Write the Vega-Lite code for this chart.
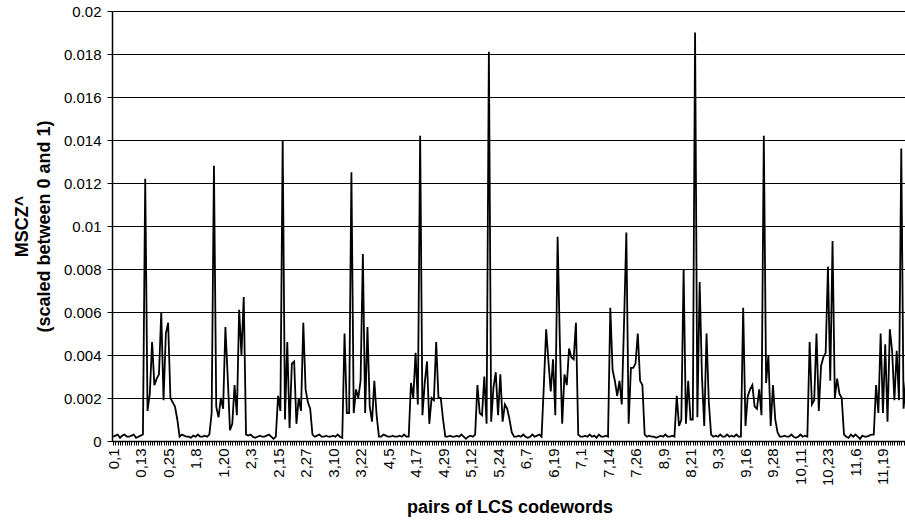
{
"$schema": "https://vega.github.io/schema/vega-lite/v6.json",
"autosize": {"type": "none"},
"width": 795,
"height": 430,
"padding": {"left": 112, "top": 11, "right": 0, "bottom": 86},
"background": "white",
"config": {"view": {"stroke": null}, "font": "Liberation Sans"},
"data": {"values": [
{"pair":"0,1","v":0.0002},{"pair":"0,2","v":0.00025},{"pair":"0,3","v":0.0003},{"pair":"0,4","v":0.00015},{"pair":"0,5","v":0.00025},{"pair":"0,6","v":0.0003},{"pair":"0,7","v":0.0002},{"pair":"0,8","v":0.0002},{"pair":"0,9","v":0.00025},{"pair":"0,10","v":0.0003},{"pair":"0,11","v":0.00015},{"pair":"0,12","v":0.0002},{"pair":"0,13","v":0.00025},{"pair":"0,14","v":0.0003},{"pair":"0,15","v":0.0122},{"pair":"0,16","v":0.0014},{"pair":"0,17","v":0.0022},{"pair":"0,18","v":0.0046},{"pair":"0,19","v":0.0026},{"pair":"0,20","v":0.0029},{"pair":"0,21","v":0.0031},{"pair":"0,22","v":0.006},{"pair":"0,23","v":0.0019},{"pair":"0,24","v":0.005},{"pair":"0,25","v":0.0055},{"pair":"0,26","v":0.002},{"pair":"0,27","v":0.0018},{"pair":"0,28","v":0.0016},{"pair":"0,29","v":0.001},
{"pair":"1,0","v":0.0002},{"pair":"1,2","v":0.0003},{"pair":"1,3","v":0.00025},{"pair":"1,4","v":0.0002},{"pair":"1,5","v":0.0002},{"pair":"1,6","v":0.00015},{"pair":"1,7","v":0.00025},{"pair":"1,8","v":0.0002},{"pair":"1,9","v":0.0003},{"pair":"1,10","v":0.0002},{"pair":"1,11","v":0.0002},{"pair":"1,12","v":0.00025},{"pair":"1,13","v":0.0002},{"pair":"1,14","v":0.0003},{"pair":"1,15","v":0.0013},{"pair":"1,16","v":0.0128},{"pair":"1,17","v":0.0016},{"pair":"1,18","v":0.0011},{"pair":"1,19","v":0.002},{"pair":"1,20","v":0.0015},{"pair":"1,21","v":0.0053},{"pair":"1,22","v":0.003},{"pair":"1,23","v":0.0005},{"pair":"1,24","v":0.0008},{"pair":"1,25","v":0.0026},{"pair":"1,26","v":0.0012},{"pair":"1,27","v":0.0061},{"pair":"1,28","v":0.004},{"pair":"1,29","v":0.0067},
{"pair":"2,0","v":0.0003},{"pair":"2,1","v":0.00025},{"pair":"2,3","v":0.0003},{"pair":"2,4","v":0.0002},{"pair":"2,5","v":0.00015},{"pair":"2,6","v":0.0002},{"pair":"2,7","v":0.00025},{"pair":"2,8","v":0.0002},{"pair":"2,9","v":0.0002},{"pair":"2,10","v":0.00025},{"pair":"2,11","v":0.0003},{"pair":"2,12","v":0.0002},{"pair":"2,13","v":0.0001},{"pair":"2,14","v":0.0002},{"pair":"2,15","v":0.0021},{"pair":"2,16","v":0.0014},{"pair":"2,17","v":0.014},{"pair":"2,18","v":0.001},{"pair":"2,19","v":0.0046},{"pair":"2,20","v":0.0006},{"pair":"2,21","v":0.0036},{"pair":"2,22","v":0.0037},{"pair":"2,23","v":0.0008},{"pair":"2,24","v":0.002},{"pair":"2,25","v":0.0014},{"pair":"2,26","v":0.0055},{"pair":"2,27","v":0.0024},{"pair":"2,28","v":0.0018},{"pair":"2,29","v":0.0015},
{"pair":"3,0","v":0.0003},{"pair":"3,1","v":0.0002},{"pair":"3,2","v":0.00025},{"pair":"3,4","v":0.0003},{"pair":"3,5","v":0.0002},{"pair":"3,6","v":0.0002},{"pair":"3,7","v":0.00025},{"pair":"3,8","v":0.0002},{"pair":"3,9","v":0.0002},{"pair":"3,10","v":0.00025},{"pair":"3,11","v":0.0002},{"pair":"3,12","v":0.0003},{"pair":"3,13","v":0.0002},{"pair":"3,14","v":0.00015},{"pair":"3,15","v":0.005},{"pair":"3,16","v":0.0013},{"pair":"3,17","v":0.0013},{"pair":"3,18","v":0.0125},{"pair":"3,19","v":0.0013},{"pair":"3,20","v":0.0024},{"pair":"3,21","v":0.002},{"pair":"3,22","v":0.0028},{"pair":"3,23","v":0.0087},{"pair":"3,24","v":0.0013},{"pair":"3,25","v":0.0053},{"pair":"3,26","v":0.0016},{"pair":"3,27","v":0.0009},{"pair":"3,28","v":0.0028},{"pair":"3,29","v":0.0012},
{"pair":"4,0","v":0.0002},{"pair":"4,1","v":0.0002},{"pair":"4,2","v":0.0003},{"pair":"4,3","v":0.00025},{"pair":"4,5","v":0.0002},{"pair":"4,6","v":0.0002},{"pair":"4,7","v":0.00025},{"pair":"4,8","v":0.0002},{"pair":"4,9","v":0.0002},{"pair":"4,10","v":0.00025},{"pair":"4,11","v":0.0002},{"pair":"4,12","v":0.0003},{"pair":"4,13","v":0.0002},{"pair":"4,14","v":0.0002},{"pair":"4,15","v":0.0027},{"pair":"4,16","v":0.002},{"pair":"4,17","v":0.0041},{"pair":"4,18","v":0.0017},{"pair":"4,19","v":0.0142},{"pair":"4,20","v":0.0012},{"pair":"4,21","v":0.0027},{"pair":"4,22","v":0.0037},{"pair":"4,23","v":0.0008},{"pair":"4,24","v":0.002},{"pair":"4,25","v":0.0019},{"pair":"4,26","v":0.0046},{"pair":"4,27","v":0.002},{"pair":"4,28","v":0.002},{"pair":"4,29","v":0.001},
{"pair":"5,0","v":0.0002},{"pair":"5,1","v":0.0002},{"pair":"5,2","v":0.00025},{"pair":"5,3","v":0.0002},{"pair":"5,4","v":0.0002},{"pair":"5,6","v":0.00025},{"pair":"5,7","v":0.0002},{"pair":"5,8","v":0.0003},{"pair":"5,9","v":0.0002},{"pair":"5,10","v":0.0001},{"pair":"5,11","v":0.0002},{"pair":"5,12","v":0.00025},{"pair":"5,13","v":0.0002},{"pair":"5,14","v":0.0003},{"pair":"5,15","v":0.0026},{"pair":"5,16","v":0.0013},{"pair":"5,17","v":0.0012},{"pair":"5,18","v":0.003},{"pair":"5,19","v":0.0008},{"pair":"5,20","v":0.0181},{"pair":"5,21","v":0.0009},{"pair":"5,22","v":0.0025},{"pair":"5,23","v":0.0032},{"pair":"5,24","v":0.0012},{"pair":"5,25","v":0.0031},{"pair":"5,26","v":0.0009},{"pair":"5,27","v":0.0017},{"pair":"5,28","v":0.0015},{"pair":"5,29","v":0.001},
{"pair":"6,0","v":0.0004},{"pair":"6,1","v":0.0002},{"pair":"6,2","v":0.0002},{"pair":"6,3","v":0.00025},{"pair":"6,4","v":0.0002},{"pair":"6,5","v":0.0003},{"pair":"6,7","v":0.0002},{"pair":"6,8","v":0.00015},{"pair":"6,9","v":0.0002},{"pair":"6,10","v":0.0003},{"pair":"6,11","v":0.0002},{"pair":"6,12","v":0.00025},{"pair":"6,13","v":0.0003},{"pair":"6,14","v":0.0002},{"pair":"6,15","v":0.0026},{"pair":"6,16","v":0.0052},{"pair":"6,17","v":0.0037},{"pair":"6,18","v":0.0023},{"pair":"6,19","v":0.0038},{"pair":"6,20","v":0.0012},{"pair":"6,21","v":0.0095},{"pair":"6,22","v":0.0045},{"pair":"6,23","v":0.0008},{"pair":"6,24","v":0.0031},{"pair":"6,25","v":0.0026},{"pair":"6,26","v":0.0043},{"pair":"6,27","v":0.0039},{"pair":"6,28","v":0.0038},{"pair":"6,29","v":0.0055},
{"pair":"7,0","v":0.0003},{"pair":"7,1","v":0.0002},{"pair":"7,2","v":0.0002},{"pair":"7,3","v":0.00025},{"pair":"7,4","v":0.0002},{"pair":"7,5","v":0.0003},{"pair":"7,6","v":0.0002},{"pair":"7,8","v":0.00025},{"pair":"7,9","v":0.00015},{"pair":"7,10","v":0.0003},{"pair":"7,11","v":0.0002},{"pair":"7,12","v":0.0002},{"pair":"7,13","v":0.00025},{"pair":"7,14","v":0.0002},{"pair":"7,15","v":0.0062},{"pair":"7,16","v":0.0033},{"pair":"7,17","v":0.0028},{"pair":"7,18","v":0.0021},{"pair":"7,19","v":0.0028},{"pair":"7,20","v":0.0017},{"pair":"7,21","v":0.0055},{"pair":"7,22","v":0.0097},{"pair":"7,23","v":0.0008},{"pair":"7,24","v":0.0034},{"pair":"7,25","v":0.0034},{"pair":"7,26","v":0.0036},{"pair":"7,27","v":0.005},{"pair":"7,28","v":0.0028},{"pair":"7,29","v":0.0026},
{"pair":"8,0","v":0.0003},{"pair":"8,1","v":0.0002},{"pair":"8,2","v":0.00025},{"pair":"8,3","v":0.0002},{"pair":"8,4","v":0.0002},{"pair":"8,5","v":0.00015},{"pair":"8,6","v":0.0002},{"pair":"8,7","v":0.00025},{"pair":"8,9","v":0.0002},{"pair":"8,10","v":0.0003},{"pair":"8,11","v":0.0002},{"pair":"8,12","v":0.0002},{"pair":"8,13","v":0.00025},{"pair":"8,14","v":0.0002},{"pair":"8,15","v":0.0021},{"pair":"8,16","v":0.0007},{"pair":"8,17","v":0.001},{"pair":"8,18","v":0.008},{"pair":"8,19","v":0.0008},{"pair":"8,20","v":0.0028},{"pair":"8,21","v":0.001},{"pair":"8,22","v":0.001},{"pair":"8,23","v":0.019},{"pair":"8,24","v":0.0011},{"pair":"8,25","v":0.0074},{"pair":"8,26","v":0.003},{"pair":"8,27","v":0.0007},{"pair":"8,28","v":0.005},{"pair":"8,29","v":0.0018},
{"pair":"9,0","v":0.0003},{"pair":"9,1","v":0.0002},{"pair":"9,2","v":0.00025},{"pair":"9,3","v":0.0002},{"pair":"9,4","v":0.0003},{"pair":"9,5","v":0.0002},{"pair":"9,6","v":0.0002},{"pair":"9,7","v":0.0003},{"pair":"9,8","v":0.0002},{"pair":"9,10","v":0.00025},{"pair":"9,11","v":0.0002},{"pair":"9,12","v":0.0003},{"pair":"9,13","v":0.0002},{"pair":"9,14","v":0.0002},{"pair":"9,15","v":0.0062},{"pair":"9,16","v":0.0007},{"pair":"9,17","v":0.0021},{"pair":"9,18","v":0.0024},{"pair":"9,19","v":0.0026},{"pair":"9,20","v":0.0016},{"pair":"9,21","v":0.0015},{"pair":"9,22","v":0.0024},{"pair":"9,23","v":0.0012},{"pair":"9,24","v":0.0142},{"pair":"9,25","v":0.0027},{"pair":"9,26","v":0.004},{"pair":"9,27","v":0.0007},{"pair":"9,28","v":0.0026},{"pair":"9,29","v":0.001},
{"pair":"10,0","v":0.0004},{"pair":"10,1","v":0.0002},{"pair":"10,2","v":0.0002},{"pair":"10,3","v":0.00025},{"pair":"10,4","v":0.0002},{"pair":"10,5","v":0.0002},{"pair":"10,6","v":0.0003},{"pair":"10,7","v":0.0002},{"pair":"10,8","v":0.00015},{"pair":"10,9","v":0.0002},{"pair":"10,11","v":0.0003},{"pair":"10,12","v":0.0002},{"pair":"10,13","v":0.00025},{"pair":"10,14","v":0.0002},{"pair":"10,15","v":0.0046},{"pair":"10,16","v":0.0017},{"pair":"10,17","v":0.0019},{"pair":"10,18","v":0.005},{"pair":"10,19","v":0.0014},{"pair":"10,20","v":0.0035},{"pair":"10,21","v":0.0039},{"pair":"10,22","v":0.0041},{"pair":"10,23","v":0.0081},{"pair":"10,24","v":0.0028},{"pair":"10,25","v":0.0093},{"pair":"10,26","v":0.002},{"pair":"10,27","v":0.0029},{"pair":"10,28","v":0.0022},
{"pair":"11,0","v":0.002},{"pair":"11,1","v":0.0003},{"pair":"11,2","v":0.0002},{"pair":"11,3","v":0.00015},{"pair":"11,4","v":0.0003},{"pair":"11,5","v":0.0002},{"pair":"11,6","v":0.0003},{"pair":"11,7","v":0.0002},{"pair":"11,8","v":0.0001},{"pair":"11,9","v":0.00025},{"pair":"11,10","v":0.0002},{"pair":"11,12","v":0.0002},{"pair":"11,13","v":0.00025},{"pair":"11,14","v":0.0003},{"pair":"11,15","v":0.0003},{"pair":"11,16","v":0.0026},{"pair":"11,17","v":0.0013},{"pair":"11,18","v":0.005},{"pair":"11,19","v":0.0013},{"pair":"11,20","v":0.0045},{"pair":"11,21","v":0.0009},{"pair":"11,22","v":0.0052},{"pair":"11,23","v":0.0042},{"pair":"11,24","v":0.0019},{"pair":"11,25","v":0.0042},{"pair":"11,26","v":0.0019},{"pair":"11,27","v":0.0136},{"pair":"11,28","v":0.0015},{"pair":"11,29","v":0.0028}
]},
"mark": {"type": "line", "color": "black", "strokeWidth": 1.8},
"encoding": {
  "x": {"field": "pair", "type": "ordinal", "sort": null,
    "scale": {"type": "point", "padding": 0.5},
    "axis": {"title": "pairs of LCS codewords", "labelAngle": -90,
      "labelExpr": "indexof(['0,1','0,13','0,25','1,8','1,20','2,3','2,15','2,27','3,10','3,22','4,5','4,17','4,29','5,12','5,24','6,7','6,19','7,1','7,14','7,26','8,9','8,21','9,3','9,16','9,28','10,11','10,23','11,6','11,19'], datum.value) >= 0 ? datum.value : ''",
      "labelFont": "Liberation Sans", "labelFontSize": 15, "labelColor": "black", "labelPadding": 3, "labelOverlap": false,
      "tickSize": 4, "tickColor": "black", "tickWidth": 1, "domainColor": "black", "domainWidth": 1.5, "grid": false,
      "titleFont": "Liberation Sans", "titleFontSize": 18, "titleFontWeight": "bold", "titleColor": "black", "titlePadding": 13}},
  "y": {"field": "v", "type": "quantitative",
    "scale": {"domain": [0, 0.02], "nice": false, "zero": true},
    "axis": {"title": ["MSCZ^", "(scaled between 0 and 1)"],
      "values": [0, 0.002, 0.004, 0.006, 0.008, 0.01, 0.012, 0.014, 0.016, 0.018, 0.02],
      "format": "~g", "labelFont": "Liberation Sans", "labelFontSize": 15, "labelColor": "black", "labelPadding": 6,
      "tickSize": 5, "tickColor": "black", "domainColor": "black", "domainWidth": 1.5,
      "grid": true, "gridColor": "black", "gridWidth": 1,
      "titleFont": "Liberation Sans", "titleFontSize": 18, "titleFontWeight": "bold", "titleColor": "black", "titlePadding": 10, "titleLineHeight": 22}}
}
}
